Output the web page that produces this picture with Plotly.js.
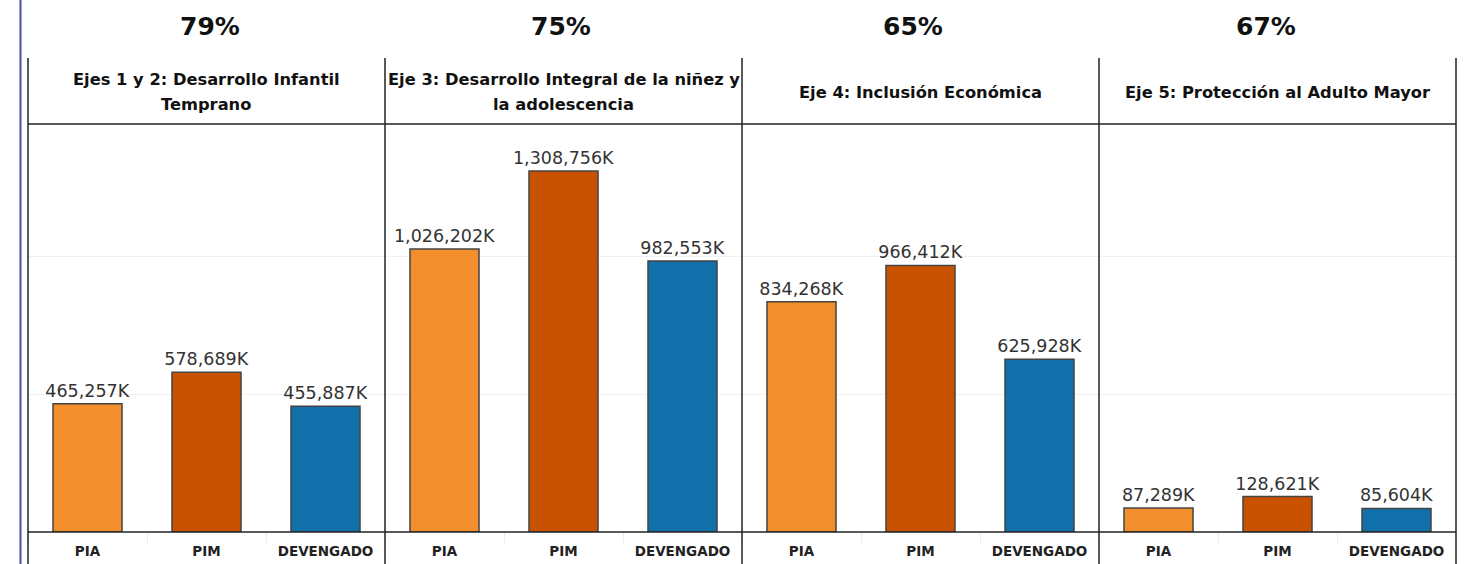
<!DOCTYPE html>
<html>
<head>
<meta charset="utf-8">
<script src="https://cdn.plot.ly/plotly-3.0.1.min.js"></script>
<style>html,body{margin:0;padding:0;background:#fff;}#chart{width:1473px;height:564px;}</style>
</head>
<body>
<div id="chart"></div>
<script>
var categories = ["PIA", "PIM", "DEVENGADO"];
var panelTitles = [
  "Ejes 1 y 2: Desarrollo Infantil<br>Temprano",
  "Eje 3: Desarrollo Integral de la niñez y<br>la adolescencia",
  "Eje 4: Inclusión Económica",
  "Eje 5: Protección al Adulto Mayor"
];
var pctLabels = ["79%", "75%", "65%", "67%"];
var eje12 = [465257, 578689, 455887];
var eje3 = [1026202, 1308756, 982553];
var eje4 = [834268, 966412, 625928];
var eje5 = [87289, 128621, 85604];
var barColors = ["#F28E2B", "#C85200", "#1170AA"];

var W = 1473, H = 564;
function px(x){ return x / W; }
function py(y){ return 1 - y / H; }

var panelEdges = [28, 385, 742, 1099, 1456];
var pctCenters = [210, 561, 913, 1266];
var plotTop = 124, plotBottom = 532;
var series = [eje12, eje3, eje4, eje5];
var font = "'DejaVu Sans', 'Noto Sans', sans-serif";

var traces = [];
var layout = {
  width: W, height: H,
  margin: {l: 0, r: 0, t: 0, b: 0},
  paper_bgcolor: "#fff", plot_bgcolor: "rgba(0,0,0,0)",
  showlegend: false,
  bargap: 0.42,
  font: {family: font, color: "#222"},
  yaxis: {
    domain: [py(plotBottom), py(plotTop)],
    range: [0, 1479000],
    tickvals: [0, 500000, 1000000],
    showticklabels: false,
    showgrid: true, gridcolor: "#f0f0f0", gridwidth: 1,
    zeroline: false, showline: false, fixedrange: true, anchor: "x"
  },
  shapes: [], annotations: []
};

series.forEach(function(vals, i){
  var xa = i === 0 ? "x" : "x" + (i + 1);
  traces.push({
    type: "bar", x: categories, y: vals, xaxis: xa, yaxis: "y",
    marker: {color: barColors, line: {color: "#444", width: 1.5}},
    texttemplate: "%{y:,.0f}K", textposition: "outside", constraintext: "none",
    textfont: {family: font, size: 17.5, color: "#333"},
    cliponaxis: false, hoverinfo: "none"
  });
  var axName = i === 0 ? "xaxis" : "xaxis" + (i + 1);
  layout[axName] = {
    domain: [px(panelEdges[i]), px(panelEdges[i + 1])],
    anchor: "y", type: "category",
    showgrid: false, zeroline: false, showline: false,
    ticks: "outside", tickson: "boundaries", ticklen: 10, tickcolor: "#ebebeb", tickwidth: 1,
    ticklabelstandoff: 9,
    tickfont: {family: font, size: 13.5, color: "#222", weight: "bold"},
    fixedrange: true
  };
  layout.annotations.push({
    xref: "paper", yref: "paper", x: px(pctCenters[i]), y: py(27),
    text: "<b>" + pctLabels[i] + "</b>", showarrow: false,
    xanchor: "center", yanchor: "middle",
    font: {family: font, size: 25, color: "#111"}
  });
  var lines = panelTitles[i].split("<br>");
  var ys = lines.length === 2 ? [80, 104] : [92];
  lines.forEach(function(t, k){
    layout.annotations.push({
      xref: "paper", yref: "paper", x: px((panelEdges[i] + panelEdges[i + 1]) / 2), y: py(ys[k]),
      text: "<b>" + t + "</b>", showarrow: false,
      xanchor: "center", yanchor: "middle", align: "center",
      font: {family: font, size: 16.3, color: "#111"}
    });
  });
});

// left accent line
layout.shapes.push({type: "line", xref: "paper", yref: "paper",
  x0: px(20.5), x1: px(20.5), y0: 0, y1: 1, line: {color: "#4b4ba8", width: 2}});
// panel vertical lines
panelEdges.forEach(function(e){
  layout.shapes.push({type: "line", xref: "paper", yref: "paper",
    x0: px(e), x1: px(e), y0: 0, y1: py(58), line: {color: "#222", width: 1.5}});
});
// header bottom line and axis baseline
[plotTop, plotBottom].forEach(function(yy){
  layout.shapes.push({type: "line", xref: "paper", yref: "paper",
    x0: px(panelEdges[0]), x1: px(panelEdges[4]), y0: py(yy), y1: py(yy),
    line: {color: "#222", width: 1.5}});
});

Plotly.newPlot("chart", traces, layout, {displayModeBar: false, staticPlot: true});
</script>
</body>
</html>
